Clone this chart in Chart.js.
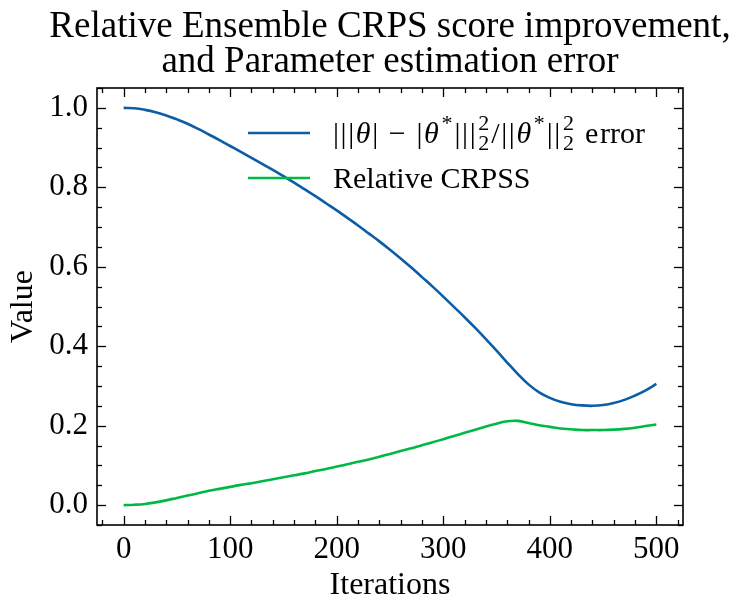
<!DOCTYPE html>
<html lang="en">
<head>
<meta charset="UTF-8">
<title>Relative Ensemble CRPS score improvement</title>
<style>
  html, body { margin: 0; padding: 0; background: #fff; }
  #wrap { width: 748px; height: 612px; }
</style>
</head>
<body>
<div id="wrap"><canvas id="chart" width="748" height="612"></canvas></div>
<script src="https://cdn.jsdelivr.net/npm/chart.js"></script>
<script>
// values, every 10 iterations
const iterations = [0, 10, 20, 30, 40, 50, 60, 70, 80, 90, 100, 110, 120, 130, 140, 150, 160, 170, 180, 190, 200, 210, 220, 230, 240, 250, 260, 270, 280, 290, 300, 310, 320, 330, 340, 350, 360, 370, 380, 390, 400, 410, 420, 430, 440, 450, 460, 470, 480, 490, 500];
const paramError = [1.000, 0.999, 0.995, 0.989, 0.981, 0.971, 0.960, 0.947, 0.933, 0.919, 0.904, 0.889, 0.874, 0.859, 0.844, 0.828, 0.812, 0.795, 0.778, 0.760, 0.742, 0.723, 0.704, 0.684, 0.664, 0.643, 0.621, 0.598, 0.574, 0.550, 0.525, 0.499, 0.473, 0.446, 0.418, 0.389, 0.359, 0.330, 0.304, 0.284, 0.270, 0.260, 0.254, 0.251, 0.250, 0.252, 0.257, 0.265, 0.276, 0.289, 0.305];
const relCrpss = [0.000, 0.001, 0.003, 0.007, 0.012, 0.018, 0.024, 0.030, 0.036, 0.041, 0.046, 0.051, 0.055, 0.060, 0.065, 0.070, 0.075, 0.080, 0.086, 0.091, 0.097, 0.103, 0.109, 0.115, 0.122, 0.129, 0.136, 0.143, 0.151, 0.158, 0.166, 0.174, 0.182, 0.190, 0.198, 0.205, 0.211, 0.212, 0.207, 0.201, 0.197, 0.193, 0.191, 0.189, 0.189, 0.189, 0.190, 0.192, 0.195, 0.199, 0.203];

const xTicks = [0, 100, 200, 300, 400, 500];
const yTicks = [0.0, 0.2, 0.4, 0.6, 0.8, 1.0];
const seriesNames = ['|||θ| − |θ^*|||_2^2/||θ^*||_2^2 error', 'Relative CRPSS'];
const titleLines = ['Relative Ensemble CRPS score improvement,', 'and Parameter estimation error'];

const FONT = '"Liberation Serif", "DejaVu Serif", serif';

// split a label like "θ^*" or "||_2^2" into plain / script pieces
function richParts(label) {
    const parts = [];
    for (let i = 0; i < label.length; i++) {
        const c = label[i];
        if (c === '_' || c === '^') {
            const part = { sub: null, sup: null };
            while (label[i] === '_' || label[i] === '^') {
                if (label[i] === '_') part.sub = label[i + 1];
                else part.sup = label[i + 1];
                i += 2;
            }
            i--;
            parts.push(part);
        } else {
            parts.push({ text: c, italic: c === 'θ' });
        }
    }
    return parts;
}

function drawRich(ctx, label, x, baseline, size) {
    const small = Math.round(size * 0.72);
    const isMath = /[_^θ]/.test(label);
    let inWords = false;
    for (const p of richParts(label)) {
        if (p.text !== undefined) {
            ctx.font = (p.italic ? 'italic ' : '') + size + 'px ' + FONT;
            ctx.fillText(p.text, x, baseline);
            x += ctx.measureText(p.text).width;
            if (isMath && !inWords) x += 1.6;
            if (p.text === 'e' && isMath) inWords = true;
        } else {
            ctx.font = small + 'px ' + FONT;
            let w = 0;
            if (p.sup) {
                ctx.fillText(p.sup, x + 1, baseline - size * 0.42);
                w = Math.max(w, ctx.measureText(p.sup).width);
            }
            if (p.sub) {
                ctx.fillText(p.sub, x + 1, baseline + size * 0.22);
                w = Math.max(w, ctx.measureText(p.sub).width);
            }
            x += w + 3;
        }
    }
}

// frame, inward major/minor ticks on all four sides
const sciAxes = {
    id: 'sciAxes',
    afterDatasetsDraw(chart) {
        const { ctx, chartArea: a, scales } = chart;
        ctx.save();
        ctx.strokeStyle = '#000';
        ctx.lineWidth = 1.3;
        const xs = scales.x, ys = scales.y;
        const tick = (x1, y1, x2, y2) => { ctx.beginPath(); ctx.moveTo(x1, y1); ctx.lineTo(x2, y2); ctx.stroke(); };
        for (let v = -20; v <= 520; v += 20) {
            const px = Math.round(xs.getPixelForValue(v)) + 0.5;
            const len = xTicks.includes(v) ? 9 : 5;
            tick(px, a.bottom, px, a.bottom - len);
            tick(px, a.top, px, a.top + len);
        }
        for (let k = -1; k <= 21; k++) {
            const v = k * 0.05;
            if (v < ys.min || v > ys.max) continue;
            const py = Math.round(ys.getPixelForValue(v)) + 0.5;
            const len = k % 4 === 0 ? 9 : 5;
            tick(a.left, py, a.left + len, py);
            tick(a.right, py, a.right - len, py);
        }
        ctx.lineWidth = 1.6;
        ctx.strokeRect(a.left, a.top, a.right - a.left, a.bottom - a.top);
        ctx.restore();
    },
    afterDraw(chart) {
        const { ctx, chartArea: a } = chart;
        ctx.save();
        ctx.fillStyle = '#000';
        // title, centred on the plot area
        ctx.font = '37px ' + FONT;
        ctx.textAlign = 'center';
        ctx.textBaseline = 'alphabetic';
        const cx = (a.left + a.right) / 2;
        ctx.fillText(titleLines[0], cx, 37);
        ctx.fillText(titleLines[1], cx, 72);
        // legend inside the axes
        ctx.textAlign = 'left';
        chart.data.datasets.forEach((ds, i) => {
            const y = 133 + i * 45;
            ctx.strokeStyle = ds.borderColor;
            ctx.lineWidth = ds.borderWidth;
            ctx.beginPath();
            ctx.moveTo(248, y);
            ctx.lineTo(310, y);
            ctx.stroke();
            ctx.fillStyle = '#000';
            drawRich(ctx, ds.label, 333, y + 10, 30);
        });
        ctx.restore();
    }
};

const ctx = document.getElementById('chart').getContext('2d');
new Chart(ctx, {
    type: 'line',
    data: {
        datasets: [{
            label: seriesNames[0],
            data: iterations.map((x, i) => ({ x: x, y: paramError[i] })),
            borderColor: '#0C5DA5',
            borderWidth: 2.6,
            pointRadius: 0,
            fill: false,
            tension: 0.4
        }, {
            label: seriesNames[1],
            data: iterations.map((x, i) => ({ x: x, y: relCrpss[i] })),
            borderColor: '#00B945',
            borderWidth: 2.6,
            pointRadius: 0,
            fill: false,
            tension: 0.4
        }]
    },
    options: {
        responsive: false,
        animation: false,
        devicePixelRatio: 1,
        layout: { padding: { top: 88, right: 65, left: 0, bottom: 0 } },
        plugins: {
            legend: { display: false },
            title: { display: false },
            tooltip: { enabled: false }
        },
        scales: {
            x: {
                type: 'linear',
                min: -25,
                max: 525,
                grid: { display: false, drawTicks: false },
                border: { display: false },
                afterBuildTicks: s => { s.ticks = xTicks.map(v => ({ value: v })); },
                afterFit: s => { s.height = 87; },
                ticks: {
                    color: '#000',
                    font: { family: FONT, size: 31 },
                    padding: 6,
                    maxRotation: 0,
                    callback: v => String(v)
                },
                title: {
                    display: true,
                    text: 'Iterations',
                    color: '#000',
                    font: { family: FONT, size: 32 },
                    padding: { top: 0, bottom: 7 }
                }
            },
            y: {
                min: -0.05,
                max: 1.05,
                grid: { display: false, drawTicks: false },
                border: { display: false },
                afterBuildTicks: s => { s.ticks = yTicks.map(v => ({ value: v })); },
                afterFit: s => { s.width = 97; },
                ticks: {
                    color: '#000',
                    font: { family: FONT, size: 31 },
                    padding: 9,
                    callback: v => Number(v).toFixed(1)
                },
                title: {
                    display: true,
                    text: 'Value',
                    color: '#000',
                    font: { family: FONT, size: 32 },
                    padding: { top: 4, bottom: 0 }
                }
            }
        }
    },
    plugins: [sciAxes]
});
</script>
</body>
</html>
